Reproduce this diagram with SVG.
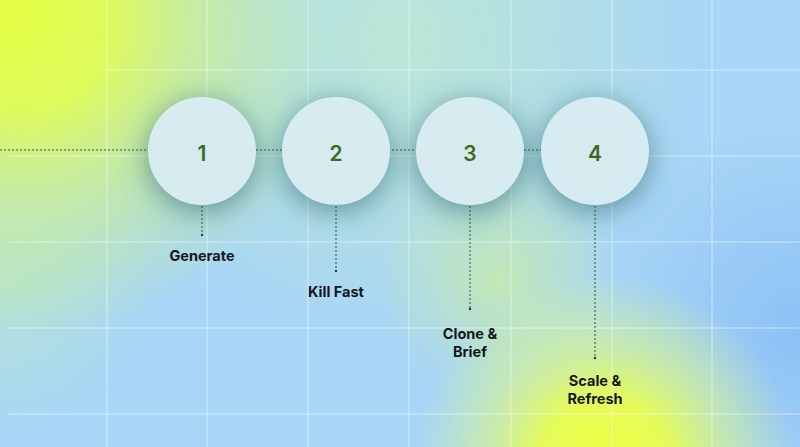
<svg xmlns="http://www.w3.org/2000/svg" width="800" height="447" viewBox="0 0 800 447">
  <defs>
    <radialGradient id="gTL" cx="0" cy="0" r="320" gradientUnits="userSpaceOnUse" gradientTransform="translate(10 10) rotate(45) scale(1.05 0.95)">
      <stop offset="0" stop-color="#e6ff45"/>
      <stop offset="0.32" stop-color="#e0fc55" stop-opacity="0.95"/>
      <stop offset="0.64" stop-color="#cff28a" stop-opacity="0.6"/>
      <stop offset="1" stop-color="#c9f090" stop-opacity="0"/>
    </radialGradient>
    <radialGradient id="gBR" cx="605" cy="465" r="190" gradientUnits="userSpaceOnUse">
      <stop offset="0" stop-color="#eeff3c"/>
      <stop offset="0.35" stop-color="#e8fd52" stop-opacity="0.95"/>
      <stop offset="0.7" stop-color="#d6f494" stop-opacity="0.55"/>
      <stop offset="1" stop-color="#d2f29a" stop-opacity="0"/>
    </radialGradient>
    <radialGradient id="gMint" cx="400" cy="40" r="300" gradientUnits="userSpaceOnUse">
      <stop offset="0" stop-color="#bde8d4" stop-opacity="0.95"/>
      <stop offset="0.6" stop-color="#b6e2dc" stop-opacity="0.6"/>
      <stop offset="1" stop-color="#b6e2dc" stop-opacity="0"/>
    </radialGradient>
    <radialGradient id="gMid" cx="500" cy="280" r="120" gradientUnits="userSpaceOnUse">
      <stop offset="0" stop-color="#c6eaac" stop-opacity="0.85"/>
      <stop offset="1" stop-color="#c6eaac" stop-opacity="0"/>
    </radialGradient>
    <radialGradient id="gRight" cx="800" cy="330" r="210" gradientUnits="userSpaceOnUse">
      <stop offset="0" stop-color="#8cc0f6" stop-opacity="0.95"/>
      <stop offset="1" stop-color="#8cc0f6" stop-opacity="0"/>
    </radialGradient>
    <radialGradient id="gLL" cx="0" cy="280" r="150" gradientUnits="userSpaceOnUse">
      <stop offset="0" stop-color="#b8e5cc" stop-opacity="0.85"/>
      <stop offset="1" stop-color="#b8e5cc" stop-opacity="0"/>
    </radialGradient>
    <filter id="shadow" x="-80%" y="-80%" width="260%" height="260%">
      <feGaussianBlur stdDeviation="15"/>
    </filter>
    <style>
      .grid line { stroke: #ffffff; stroke-opacity: 0.5; stroke-width: 1; }
      .node circle { fill: #d9edf3; fill-opacity: 0.97; }
      .num { font-family: Inter, "Liberation Sans", sans-serif; font-weight: 600; font-size: 21px; fill: #3d6a1d; text-anchor: middle; }
      .lbl { font-family: Inter, "Liberation Sans", sans-serif; font-weight: 700; font-size: 14.5px; fill: #14171a; text-anchor: middle; }
      .conn line { stroke: #3b4a4c; stroke-width: 1; stroke-dasharray: 2 2; }
      .conn circle { fill: #2a3436; }
    </style>
  </defs>

  <!-- background -->
  <rect width="800" height="447" fill="#a8d6f6"/>
  <rect width="800" height="447" fill="url(#gMint)"/>
  <rect width="800" height="447" fill="url(#gRight)"/>
  <rect width="800" height="447" fill="url(#gLL)"/>
  <rect width="800" height="447" fill="url(#gMid)"/>
  <rect width="800" height="447" fill="url(#gTL)"/>
  <rect width="800" height="447" fill="url(#gBR)"/>

  <!-- grid -->
  <g class="grid">
    <line x1="107" y1="0" x2="107" y2="447"/>
    <line x1="207" y1="0" x2="207" y2="447"/>
    <line x1="308" y1="0" x2="308" y2="447"/>
    <line x1="409" y1="0" x2="409" y2="447"/>
    <line x1="511" y1="0" x2="511" y2="447"/>
    <line x1="612" y1="0" x2="612" y2="447"/>
    <line x1="712" y1="0" x2="712" y2="447"/>
    <line x1="105" y1="70" x2="800" y2="70"/>
    <line x1="8" y1="156" x2="800" y2="156"/>
    <line x1="8" y1="242" x2="800" y2="242"/>
    <line x1="8" y1="328" x2="800" y2="328"/>
    <line x1="8" y1="414" x2="800" y2="414"/>
  </g>

  <!-- shadows -->
  <g fill="#3a747b" fill-opacity="0.72" filter="url(#shadow)">
    <circle cx="202" cy="157" r="54"/>
    <circle cx="336" cy="157" r="54"/>
    <circle cx="470" cy="157" r="54"/>
    <circle cx="595" cy="157" r="54"/>
  </g>

  <!-- connectors -->
  <g class="conn">
    <line x1="0" y1="150" x2="541" y2="150"/>
    <line x1="202" y1="206" x2="202" y2="235"/>
    <circle cx="202" cy="235" r="1.2"/>
    <line x1="336" y1="206" x2="336" y2="271"/>
    <circle cx="336" cy="271" r="1.2"/>
    <line x1="470" y1="206" x2="470" y2="309"/>
    <circle cx="470" cy="309" r="1.2"/>
    <line x1="595" y1="206" x2="595" y2="358"/>
    <circle cx="595" cy="358" r="1.2"/>
  </g>

  <!-- nodes -->
  <g id="node1" class="node">
    <circle cx="202" cy="151" r="54"/>
    <text class="num" x="202" y="161">1</text>
    <text class="lbl" x="202" y="261">Generate</text>
  </g>
  <g id="node2" class="node">
    <circle cx="336" cy="151" r="54"/>
    <text class="num" x="336" y="161">2</text>
    <text class="lbl" x="336" y="297">Kill Fast</text>
  </g>
  <g id="node3" class="node">
    <circle cx="470" cy="151" r="54"/>
    <text class="num" x="470" y="161">3</text>
    <text class="lbl" x="470" y="339">Clone &amp;</text>
    <text class="lbl" x="470" y="357">Brief</text>
  </g>
  <g id="node4" class="node">
    <circle cx="595" cy="151" r="54"/>
    <text class="num" x="595" y="161">4</text>
    <text class="lbl" x="595" y="386">Scale &amp;</text>
    <text class="lbl" x="595" y="404">Refresh</text>
  </g>
</svg>
